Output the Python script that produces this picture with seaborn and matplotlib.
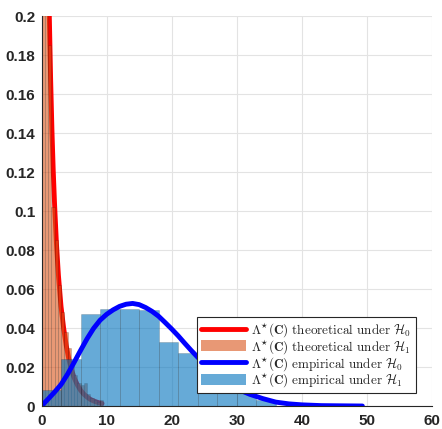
import numpy as np
import pandas as pd
import matplotlib
matplotlib.use("Agg")
import matplotlib.pyplot as plt
import seaborn as sns
from matplotlib.lines import Line2D
from matplotlib.patches import Patch
from matplotlib.ticker import FixedLocator, FixedFormatter

# ---------------- data ----------------
orange_edges = [0.0, 0.5, 1.0, 1.5, 2.0, 2.5, 3.0, 3.5, 4.0, 4.5, 5.0,
                5.5, 6.0, 6.5, 7.0, 7.5, 8.0, 8.5, 9.0, 9.5]
orange_heights = [1.0, 0.33, 0.185, 0.102, 0.085, 0.062, 0.048, 0.038,
                  0.030, 0.021, 0.016, 0.012, 0.011, 0.012, 0.006, 0.004,
                  0.003, 0.002, 0.003]

blue_edges = [0, 3, 6, 9, 12, 15, 18, 21, 24, 27, 30, 33, 36]
blue_heights = [0.0082, 0.0241, 0.0472, 0.0496, 0.0500, 0.0492, 0.0329,
                0.0270, 0.0200, 0.0130, 0.0080, 0.0031]

red_x = [0.6, 0.8, 1.0, 1.2, 1.4, 1.6, 1.8, 2.0, 2.3, 2.6, 3.0, 3.4, 3.8,
         4.2, 4.6, 5.0, 5.5, 6.0, 6.5, 7.0, 7.5, 8.0, 8.5, 9.0, 9.3]
red_y = [0.382, 0.299, 0.242, 0.200, 0.168, 0.142, 0.121, 0.104, 0.083,
         0.067, 0.051, 0.040, 0.031, 0.024, 0.0187, 0.0146, 0.0109, 0.0081,
         0.0061, 0.0046, 0.0034, 0.0026, 0.0020, 0.0015, 0.0013]

blue_x = [0, 1, 2, 3, 4, 5, 6, 7, 8, 9, 10, 11, 12, 13, 14, 15, 16, 17, 18,
          19, 20, 21, 22, 23, 24, 26, 28, 30, 32, 34, 36, 38, 40, 43, 46, 49.3]
blue_y = [0.0, 0.0035, 0.0071, 0.0110, 0.0163, 0.0223, 0.0285, 0.0345,
          0.0398, 0.0440, 0.0470, 0.0493, 0.0511, 0.0522, 0.0526, 0.0520,
          0.0505, 0.0485, 0.0460, 0.0428, 0.0395, 0.0360, 0.0322, 0.0285,
          0.0250, 0.0185, 0.0130, 0.0088, 0.0060, 0.0038, 0.0020, 0.0011,
          0.0006, 0.0002, 0.0001, 0.0]

x_ticks = [0, 10, 20, 30, 40, 50, 60]
x_tick_labels = ["0", "10", "20", "30", "40", "50", "60"]
y_ticks = [0, 0.02, 0.04, 0.06, 0.08, 0.1, 0.12, 0.14, 0.16, 0.18, 0.2]
y_tick_labels = ["0", "0.02", "0.04", "0.06", "0.08", "0.1", "0.12",
                 "0.14", "0.16", "0.18", "0.2"]

legend_labels = [
    r"$\Lambda^{\star}(\mathbf{C})\ \mathrm{theoretical\ under}\ \mathcal{H}_0$",
    r"$\Lambda^{\star}(\mathbf{C})\ \mathrm{theoretical\ under}\ \mathcal{H}_1$",
    r"$\Lambda^{\star}(\mathbf{C})\ \mathrm{empirical\ under}\ \mathcal{H}_0$",
    r"$\Lambda^{\star}(\mathbf{C})\ \mathrm{empirical\ under}\ \mathcal{H}_1$",
]

# ---------------- styling ----------------
sns.set_style("white")
plt.rcParams["font.family"] = ["Liberation Sans", "DejaVu Sans"]
plt.rcParams["mathtext.fontset"] = "cm"

RED = (1.0, 0.0, 0.0)
ORANGE = (0.85, 0.325, 0.098)
BLUE_LINE = (0.0, 0.0, 1.0)
BLUE_BAR = (0.0, 0.447, 0.741)
TXT = "#262626"

fig = plt.figure(figsize=(4.42, 4.29), dpi=100)
ax = fig.add_axes([0.0939, 0.0536, 0.8835, 0.9091])

orange_centers = [(a + b) / 2 for a, b in zip(orange_edges[:-1], orange_edges[1:])]
blue_centers = [(a + b) / 2 for a, b in zip(blue_edges[:-1], blue_edges[1:])]

sns.lineplot(x=red_x, y=red_y, color=RED, linewidth=3.5, ax=ax,
             sort=False, estimator=None, zorder=2)
sns.histplot(x=orange_centers, weights=orange_heights, bins=orange_edges,
             stat="count", color=ORANGE, alpha=0.6,
             edgecolor=(0, 0, 0, 0.2), linewidth=0.5, ax=ax, zorder=3)
sns.histplot(x=blue_centers, weights=blue_heights, bins=blue_edges,
             stat="count", color=BLUE_BAR, alpha=0.6,
             edgecolor=(0, 0, 0, 0.2), linewidth=0.5, ax=ax, zorder=4)
sns.lineplot(x=blue_x, y=blue_y, color=BLUE_LINE, linewidth=3.5, ax=ax,
             sort=False, estimator=None, zorder=5)

ax.set_xlim(0, 60)
ax.set_ylim(0, 0.2)
ax.set_xlabel("")
ax.set_ylabel("")
ax.xaxis.set_major_locator(FixedLocator(x_ticks))
ax.xaxis.set_major_formatter(FixedFormatter(x_tick_labels))
ax.yaxis.set_major_locator(FixedLocator(y_ticks))
ax.yaxis.set_major_formatter(FixedFormatter(y_tick_labels))

ax.grid(True, color="#e3e3e3", linewidth=0.8, zorder=0)
ax.set_axisbelow(True)
for s in ["top", "right"]:
    ax.spines[s].set_visible(False)
for s in ["left", "bottom"]:
    ax.spines[s].set_color(TXT)
    ax.spines[s].set_linewidth(0.8)
    ax.spines[s].set_zorder(6)

ax.tick_params(axis="both", direction="in", length=3, width=0.7,
               color=TXT, labelcolor=TXT, labelsize=11)
ax.tick_params(axis="x", pad=6)
ax.tick_params(axis="y", pad=4.5)
for lbl in ax.get_xticklabels() + ax.get_yticklabels():
    lbl.set_fontweight("bold")

handles = [
    Line2D([0], [0], color=RED, linewidth=3.5),
    Patch(facecolor=ORANGE, alpha=0.6, edgecolor="none"),
    Line2D([0], [0], color=BLUE_LINE, linewidth=3.5),
    Patch(facecolor=BLUE_BAR, alpha=0.6, edgecolor="none"),
]
leg = ax.legend(handles, legend_labels, loc="lower left",
                bbox_to_anchor=(0.399, 0.0326), borderaxespad=0,
                fontsize=9.5, frameon=True, fancybox=False, framealpha=1,
                edgecolor=TXT, handlelength=3.4, handleheight=0.9,
                handletextpad=0.4, labelspacing=-0.08, borderpad=0.3)
leg.get_frame().set_linewidth(0.8)
leg.set_zorder(10)

fig.savefig("out.png", dpi=100)
